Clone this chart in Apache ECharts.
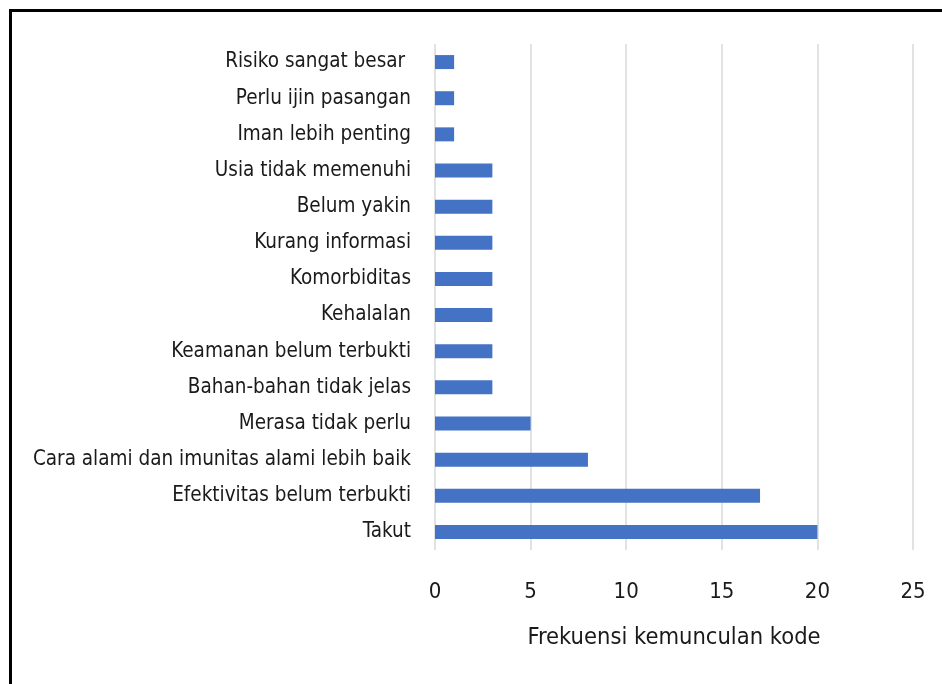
<!DOCTYPE html>
<html>
<head>
<meta charset="utf-8">
<script src="https://cdn.jsdelivr.net/npm/echarts@6/dist/echarts.min.js"></script>
<style>
  html, body { margin: 0; padding: 0; background: #fff; }
  #chart { width: 942px; height: 684px; }
</style>
</head>
<body>
<div id="chart"></div>
<script>
// categories from bottom to top, as the category axis draws them
var categories = [
    'Takut',
    'Efektivitas belum terbukti',
    'Cara alami dan imunitas alami lebih baik',
    'Merasa tidak perlu',
    'Bahan-bahan tidak jelas',
    'Keamanan belum terbukti',
    'Kehalalan',
    'Komorbiditas',
    'Kurang informasi',
    'Belum yakin',
    'Usia tidak memenuhi',
    'Iman lebih penting',
    'Perlu ijin pasangan',
    'Risiko sangat besar '
];
var counts = [20, 17, 8, 5, 3, 3, 3, 3, 3, 3, 3, 1, 1, 1];
var xTicks = [0, 5, 10, 15, 20, 25];

var labelFont = '"Liberation Sans Narrow", "DejaVu Sans Condensed", "Open Sans", sans-serif';

var chart = echarts.init(document.getElementById('chart'));

var option = {
    animation: false,
    backgroundColor: '#fff',
    graphic: [{
        type: 'rect',
        shape: { x: 10.5, y: 10.5, width: 1000, height: 1000 },
        style: { fill: 'none', stroke: '#000', lineWidth: 3 }
    }],
    grid: {
        left: 435,
        right: 29,
        top: 44,
        bottom: 134
    },
    xAxis: {
        type: 'value',
        min: xTicks[0],
        max: xTicks[xTicks.length - 1],
        interval: 5,
        name: 'Frekuensi kemunculan kode',
        nameLocation: 'middle',
        nameGap: 76,
        nameTextStyle: {
            color: '#1a1a1a',
            fontSize: 23.5,
            fontFamily: labelFont
        },
        axisLine: { show: false },
        axisTick: { show: false },
        axisLabel: {
            margin: 31,
            color: '#1a1a1a',
            fontSize: 22,
            fontFamily: labelFont
        },
        splitLine: {
            show: true,
            lineStyle: { color: '#d9d9d9', width: 1.5 }
        }
    },
    yAxis: {
        type: 'category',
        data: categories,
        axisLine: { show: false },
        axisTick: { show: false },
        axisLabel: {
            margin: 24,
            color: '#1a1a1a',
            fontSize: 20.5,
            fontFamily: labelFont
        }
    },
    series: [{
        type: 'bar',
        data: counts,
        barWidth: 14,
        itemStyle: { color: '#4472c4' }
    }]
};
chart.setOption(option);
</script>
</body>
</html>
